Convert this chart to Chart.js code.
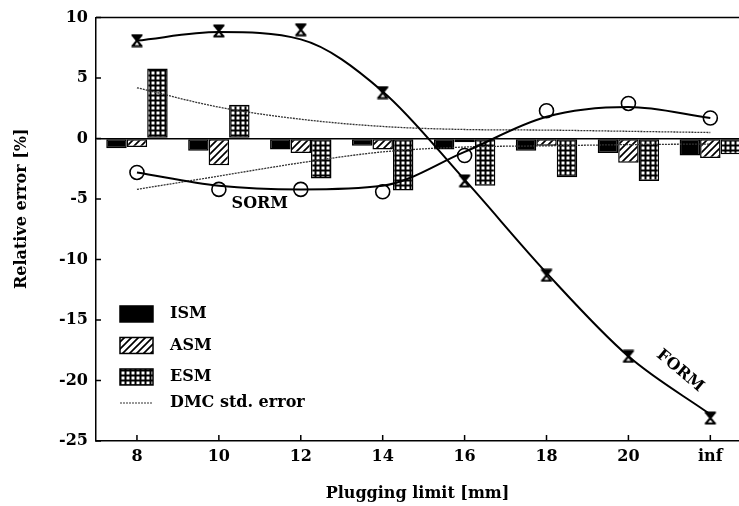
<!DOCTYPE html>
<html>
<head>
<meta charset="utf-8">
<script src="https://cdn.jsdelivr.net/npm/chart.js@4.4.1/dist/chart.umd.min.js"></script>
<style>
  html, body { margin: 0; padding: 0; background: #fff; overflow: hidden; }
  canvas { display: block; }
</style>
</head>
<body>
<canvas id="chart" width="739" height="506"></canvas>
<script>
// plugging limits (mm) on the x axis
const limits = ['8', '10', '12', '14', '16', '18', '20', 'inf'];

// relative error [%] of the three simulation methods (bars)
const ismError = [-0.8, -1.0, -0.9, -0.6, -0.9, -1.0, -1.2, -1.4];
const asmError = [-0.7, -2.2, -1.2, -0.9, -0.3, -0.6, -2.0, -1.6];
const esmError = [5.8, 2.8, -3.3, -4.3, -3.9, -3.2, -3.5, -1.3];

// FORM / SORM: computed points and the fitted curve drawn through them
const formPoints = [8.1, 8.9, 9.0, 3.8, -3.5, -11.3, -18.0, -23.1];
const formCurve = [8.1, 8.8, 8.2, 3.9, -3.4, -11.1, -18.0, -22.8];
const sormPoints = [-2.8, -4.2, -4.2, -4.4, -1.4, 2.3, 2.9, 1.7];
const sormCurve = [-2.8, -3.9, -4.2, -3.9, -1.1, 1.8, 2.6, 1.7];

// DMC standard error band
const dmcUpper = [4.2, 2.6, 1.6, 1.0, 0.75, 0.7, 0.6, 0.5];
const dmcLower = [-4.2, -3.1, -2.0, -1.1, -0.7, -0.6, -0.5, -0.45];

const yTicks = [10, 5, 0, -5, -10, -15, -20, -25];

const FONT = '"DejaVu Serif", "Liberation Serif", serif';

const canvas = document.getElementById('chart');
const ctx = canvas.getContext('2d');

const pts = arr => arr.map((y, i) => ({ x: i, y }));

function hatchPattern() {
  const c = document.createElement('canvas');
  c.width = 7; c.height = 7;
  const g = c.getContext('2d');
  g.fillStyle = '#fff';
  g.fillRect(0, 0, 7, 7);
  g.strokeStyle = '#000';
  g.lineWidth = 1.7;
  g.beginPath();
  g.moveTo(-1, 8); g.lineTo(8, -1);
  g.moveTo(-1, 1); g.lineTo(1, -1);
  g.moveTo(6, 8); g.lineTo(8, 6);
  g.stroke();
  return ctx.createPattern(c, 'repeat');
}

function gridPattern() {
  const c = document.createElement('canvas');
  c.width = 5; c.height = 5;
  const g = c.getContext('2d');
  g.fillStyle = '#000';
  g.fillRect(0, 0, 5, 5);
  g.fillStyle = '#fff';
  g.fillRect(1.5, 1.5, 3, 3);
  return ctx.createPattern(c, 'repeat');
}

function hourglass() {
  const c = document.createElement('canvas');
  c.width = 14; c.height = 14;
  const g = c.getContext('2d');
  g.strokeStyle = '#000';
  g.lineWidth = 2;
  g.beginPath();
  g.moveTo(1.5, 1.5); g.lineTo(12.5, 1.5);
  g.moveTo(1.5, 12.5); g.lineTo(12.5, 12.5);
  g.moveTo(2.5, 1.5); g.lineTo(11.5, 12.5);
  g.moveTo(11.5, 1.5); g.lineTo(2.5, 12.5);
  g.stroke();
  g.fillStyle = '#000';
  g.beginPath();
  g.moveTo(3, 1.5); g.lineTo(11, 1.5); g.lineTo(7, 7); g.closePath();
  g.fill();
  return c;
}

const hatch = hatchPattern();
const grid = gridPattern();

// legend, axis frame, inner ticks and the curve names
const decorations = {
  id: 'decorations',
  afterDraw(chart) {
    const { ctx, chartArea: a, scales: { x, y } } = chart;
    ctx.save();
    ctx.strokeStyle = '#000';
    ctx.lineWidth = 1.5;

    // top frame line
    ctx.beginPath();
    ctx.moveTo(a.left, a.top);
    ctx.lineTo(a.right, a.top);
    ctx.stroke();

    // inner tick marks
    ctx.beginPath();
    yTicks.forEach(v => {
      const py = y.getPixelForValue(v);
      ctx.moveTo(a.left, py);
      ctx.lineTo(a.left + 5, py);
    });
    limits.forEach((l, i) => {
      const px = x.getPixelForValue(i);
      ctx.moveTo(px, a.bottom);
      ctx.lineTo(px, a.bottom - 6);
    });
    ctx.stroke();

    // y title
    ctx.fillStyle = '#000';
    ctx.font = 'bold 16px ' + FONT;
    ctx.textAlign = 'center';
    ctx.textBaseline = 'middle';
    ctx.save();
    ctx.translate(22, y.getPixelForValue(-5.8));
    ctx.rotate(-Math.PI / 2);
    ctx.fillText('Relative error [%]', 0, 0);
    ctx.restore();

    // curve names
    ctx.fillText('SORM', x.getPixelForValue(1.5), y.getPixelForValue(-5.4));
    ctx.save();
    ctx.translate(x.getPixelForValue(6.63), y.getPixelForValue(-19.2));
    ctx.rotate(40 * Math.PI / 180);
    ctx.fillText('FORM', 0, 0);
    ctx.restore();

    // legend
    const items = [
      { label: 'ISM', fill: '#000' },
      { label: 'ASM', fill: hatch },
      { label: 'ESM', fill: grid },
      { label: 'DMC std. error', line: true }
    ];
    const lx = a.left + 24;
    let ly = y.getPixelForValue(-14.5);
    ctx.textAlign = 'left';
    items.forEach((it, i) => {
      if (it.line) {
        ctx.save();
        ctx.strokeStyle = '#333';
        ctx.lineWidth = 1.2;
        ctx.setLineDash([2, 1]);
        ctx.beginPath();
        ctx.moveTo(lx, ly);
        ctx.lineTo(lx + 33, ly);
        ctx.stroke();
        ctx.restore();
      } else {
        ctx.fillStyle = it.fill;
        ctx.fillRect(lx, ly - 8, 33, 16);
        ctx.strokeRect(lx, ly - 8, 33, 16);
      }
      ctx.fillStyle = '#000';
      ctx.fillText(it.label, lx + 50, ly);
      ly += i === 2 ? 26 : 31.5;
    });
    ctx.restore();
  }
};

new Chart(ctx, {
  type: 'bar',
  data: {
    datasets: [
      { type: 'line', label: 'FORM', data: pts(formCurve), borderColor: '#000', borderWidth: 2,
        pointRadius: 0, cubicInterpolationMode: 'monotone', order: 1 },
      { type: 'line', label: 'FORM points', data: pts(formPoints), showLine: false,
        pointStyle: hourglass(), pointRadius: 7, order: 0 },
      { type: 'line', label: 'SORM', data: pts(sormCurve), borderColor: '#000', borderWidth: 2,
        pointRadius: 0, cubicInterpolationMode: 'monotone', order: 1 },
      { type: 'line', label: 'SORM points', data: pts(sormPoints), showLine: false,
        pointStyle: 'circle', pointRadius: 7, pointBackgroundColor: 'rgba(255,255,255,0)',
        pointBorderColor: '#000', pointBorderWidth: 1.6, order: 0 },
      { type: 'line', label: 'DMC std. error', data: pts(dmcUpper), borderColor: '#333', borderWidth: 1.3,
        borderDash: [2, 1], pointRadius: 0, cubicInterpolationMode: 'monotone', order: 1 },
      { type: 'line', label: 'DMC lower', data: pts(dmcLower), borderColor: '#333', borderWidth: 1.3,
        borderDash: [2, 1], pointRadius: 0, cubicInterpolationMode: 'monotone', order: 1 },
      { label: 'ISM', data: pts(ismError), backgroundColor: '#000', borderColor: '#000',
        borderWidth: 1.5, borderSkipped: false, order: 2 },
      { label: 'ASM', data: pts(asmError), backgroundColor: hatch, borderColor: '#000',
        borderWidth: 1.5, borderSkipped: false, order: 2 },
      { label: 'ESM', data: pts(esmError), backgroundColor: grid, borderColor: '#000',
        borderWidth: 1.5, borderSkipped: false, order: 2 }
    ]
  },
  options: {
    responsive: false,
    animation: false,
    devicePixelRatio: 1,
    layout: { autoPadding: false, padding: { top: 11, right: 0, left: 0, bottom: 0 } },
    datasets: { bar: { categoryPercentage: 0.75, barPercentage: 1.0 } },
    plugins: { legend: { display: false }, tooltip: { enabled: false } },
    scales: {
      x: {
        type: 'linear',
        min: -0.5,
        max: 7.35,
        offset: false,
        afterBuildTicks: scale => { scale.ticks = limits.map((l, i) => ({ value: i })); },
        afterFit: scale => { scale.height = 65; scale.paddingRight = 0; scale.paddingLeft = 0; },
        ticks: {
          callback: v => limits[v],
          color: '#000',
          padding: 6,
          maxRotation: 0,
          font: { family: FONT, size: 16, weight: 'bold' }
        },
        grid: { display: false, offset: false, drawTicks: false },
        border: { color: '#000', width: 1.5 },
        title: {
          display: true,
          text: 'Plugging limit [mm]',
          color: '#000',
          padding: { top: 0, bottom: 3 },
          font: { family: FONT, size: 16, weight: 'bold' }
        }
      },
      y: {
        min: -25,
        max: 10,
        afterBuildTicks: scale => { scale.ticks = yTicks.map(v => ({ value: v })); },
        afterFit: scale => { scale.width = 96; },
        ticks: {
          color: '#000',
          padding: 8,
          font: { family: FONT, size: 16, weight: 'bold' }
        },
        grid: {
          drawTicks: false,
          color: c => (c.tick && c.tick.value === 0 ? '#000' : 'rgba(0,0,0,0)'),
          lineWidth: 1.5
        },
        border: { color: '#000', width: 1.5 }
      }
    }
  },
  plugins: [decorations]
});
</script>
</body>
</html>
